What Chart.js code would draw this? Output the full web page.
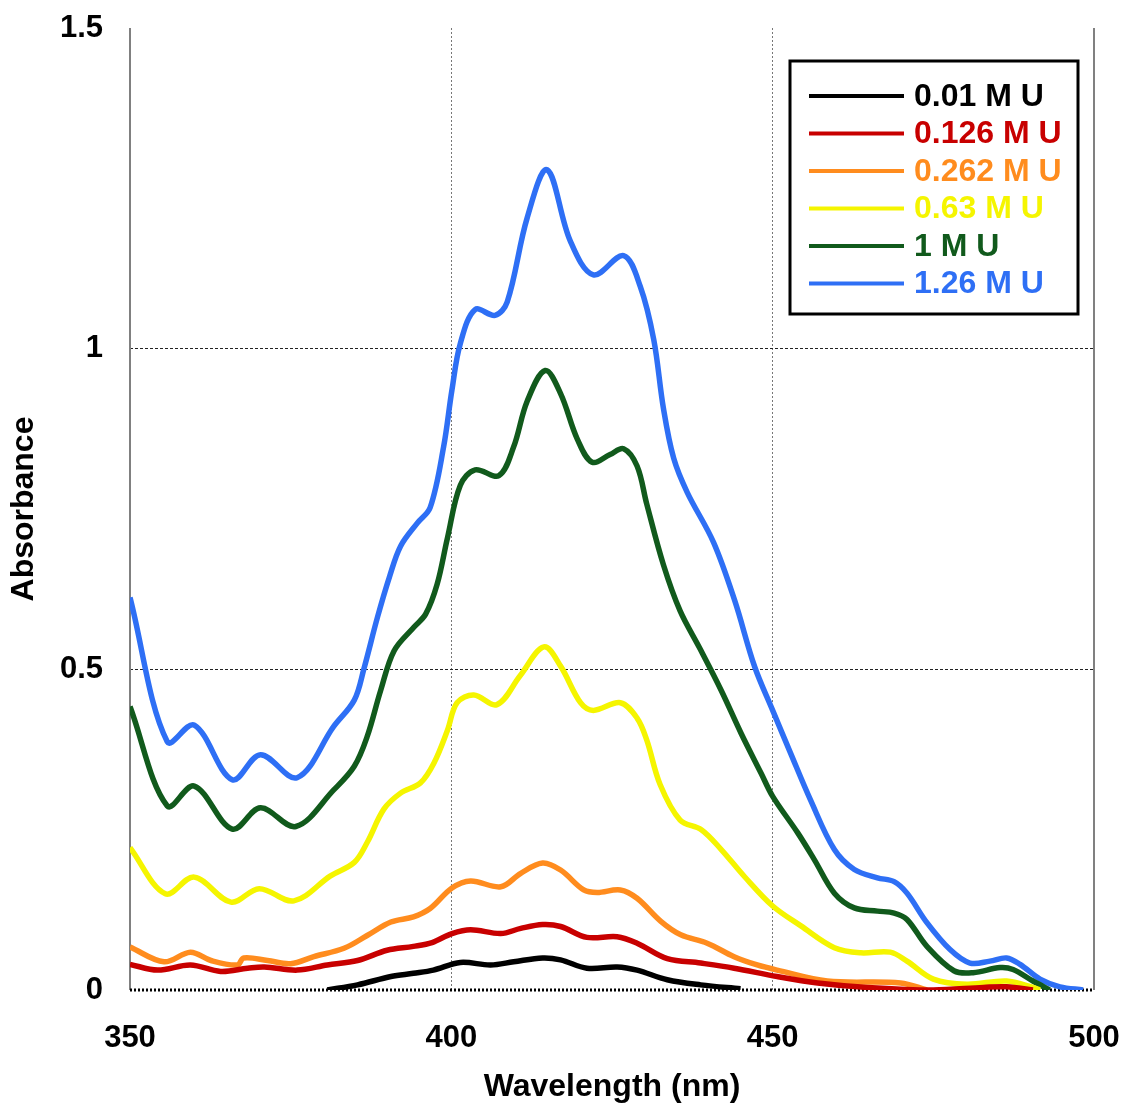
<!DOCTYPE html>
<html>
<head>
<meta charset="utf-8">
<script src="https://cdn.jsdelivr.net/npm/chart.js@4/dist/chart.umd.min.js"></script>
<style>
  body { margin: 0; background: #fff; }
  #wrap { width: 1122px; height: 1103px; }
</style>
</head>
<body>
<div id="wrap"><canvas id="chartAbs"></canvas></div>
<script>
// absorbance spectra at different urea concentrations
const seriesNames = ['0.01 M U', '0.126 M U', '0.262 M U', '0.63 M U', '1 M U', '1.26 M U'];
const seriesColors = ['#000000', '#c80000', '#ff8c1e', '#f5f500', '#115a1c', '#2e6ff5'];

const wl001 = [380.7, 385.4, 390.6, 394.1, 397.2, 401.4, 406.1, 409.7, 414.2, 417, 421.1, 425.8, 428.9, 433.6, 438.8, 445];
const abs001 = [0, 0.008, 0.021, 0.026, 0.031, 0.043, 0.039, 0.044, 0.050, 0.047, 0.034, 0.036, 0.031, 0.016, 0.008, 0.002];

const wl0126 = [350, 354.3, 359.4, 364.1, 368.3, 370.9, 376, 380.7, 385.4, 390, 394.1, 397, 400.1, 403, 407.7, 410.8,
  414.2, 417, 421.1, 425.8, 428.9, 433.6, 438.8, 444, 450.7, 457, 464.7, 475, 482.8, 486.4, 490.5];
const abs0126 = [0.040, 0.031, 0.039, 0.029, 0.034, 0.036, 0.031, 0.039, 0.046, 0.062, 0.068, 0.074, 0.088, 0.094, 0.088, 0.096,
  0.102, 0.099, 0.082, 0.083, 0.073, 0.049, 0.042, 0.034, 0.021, 0.011, 0.004, 0, 0.004, 0.005, 0];

const wl0262 = [350, 355.3, 359.4, 362.6, 366.7, 367.7, 371.4, 375, 378.6, 383.3, 386.9, 390.6, 394.1, 396.7, 400.1, 403,
  407.7, 410.8, 414.2, 417, 420.6, 422.7, 426.3, 428.9, 432.6, 435.7, 439.8, 444, 447.6, 450.7, 458.5, 469.9, 474];
const abs0262 = [0.067, 0.044, 0.059, 0.046, 0.039, 0.050, 0.046, 0.041, 0.052, 0.065, 0.085, 0.106, 0.114, 0.127, 0.159, 0.170,
  0.161, 0.182, 0.198, 0.187, 0.156, 0.152, 0.156, 0.143, 0.107, 0.086, 0.073, 0.052, 0.039, 0.031, 0.014, 0.011, 0];

const wl063 = [350, 355.5, 360, 365.7, 370.1, 375.5, 381.2, 384.9, 386.9, 389.5, 392.1, 395.2, 397.3, 399.4, 400.9, 403.5,
  407.1, 410.7, 414.4, 417, 420.1, 422.1, 426.3, 428.9, 430.4, 432.5, 435.6, 438.9, 442, 445.6, 450, 454.4,
  459.6, 463.7, 468.3, 470.9, 475, 480.2, 486.4, 490.5, 491.6];
const abs063 = [0.222, 0.150, 0.176, 0.137, 0.158, 0.139, 0.178, 0.199, 0.230, 0.282, 0.307, 0.323, 0.354, 0.405, 0.448, 0.460,
  0.445, 0.490, 0.535, 0.505, 0.448, 0.436, 0.448, 0.424, 0.390, 0.320, 0.265, 0.250, 0.219, 0.177, 0.131, 0.100,
  0.066, 0.058, 0.059, 0.045, 0.017, 0.009, 0.014, 0.004, 0];

const wl1 = [350, 355.8, 360, 365.9, 370.3, 375.8, 381.7, 384.9, 386.9, 389, 391.1, 394.2, 396, 397.8, 399.4, 401.4,
  403.7, 407.4, 409.7, 411.8, 414.6, 417, 419.6, 421.9, 424.7, 426.8, 428.9, 430.4, 433, 435.6, 438.7, 442,
  445.1, 448.2, 450, 453.9, 456.5, 459.6, 462.7, 466.3, 468.9, 470.9, 474, 478.2, 481.2, 485.4, 487.4, 490.5, 493.1];
const abs1 = [0.442, 0.287, 0.318, 0.251, 0.284, 0.255, 0.312, 0.349, 0.395, 0.467, 0.529, 0.566, 0.586, 0.633, 0.705, 0.787,
  0.811, 0.802, 0.847, 0.918, 0.966, 0.930, 0.859, 0.823, 0.835, 0.844, 0.817, 0.758, 0.663, 0.591, 0.532, 0.467,
  0.400, 0.338, 0.302, 0.245, 0.203, 0.151, 0.128, 0.123, 0.120, 0.110, 0.068, 0.030, 0.027, 0.035, 0.032, 0.014, 0];

const wl126 = [350, 355.8, 360, 365.9, 370.3, 376, 381.7, 384.9, 386.4, 388.5, 390.4, 392.1, 394.7, 396.7, 398.8, 400.1,
  401.4, 403.7, 406.8, 408.7, 411.8, 414.9, 418.5, 422.1, 426.8, 429.4, 431.5, 433, 434.6, 436.7, 440.8, 444.1,
  447.2, 450, 452.8, 455.9, 459.6, 462.7, 466.3, 468.9, 470.9, 474, 477.6, 480.7, 483.8, 486.4, 488.5, 491.6, 494.7, 498.3];
const abs126 = [0.612, 0.387, 0.413, 0.328, 0.367, 0.331, 0.411, 0.452, 0.501, 0.581, 0.645, 0.692, 0.728, 0.752, 0.847, 0.936,
  1.008, 1.061, 1.052, 1.073, 1.204, 1.279, 1.168, 1.115, 1.145, 1.097, 1.014, 0.907, 0.829, 0.776, 0.698, 0.607,
  0.504, 0.436, 0.369, 0.296, 0.219, 0.188, 0.175, 0.169, 0.151, 0.105, 0.063, 0.042, 0.045, 0.050, 0.040, 0.017, 0.005, 0];

const xTicks = [350, 400, 450, 500];
const yTicks = [0, 0.5, 1, 1.5];

const wlSets = [wl001, wl0126, wl0262, wl063, wl1, wl126];
const absSets = [abs001, abs0126, abs0262, abs063, abs1, abs126];

const datasets = seriesNames.map((name, k) => ({
  label: name,
  data: wlSets[k].map((x, i) => ({ x: x, y: absSets[k][i] })),
  borderColor: seriesColors[k],
  backgroundColor: seriesColors[k],
  borderWidth: 5.5,
  pointRadius: 0,
  showLine: true,
  fill: false,
  tension: 0.35
}));

// frame: gray left/right lines, dotted black baseline
const framePlugin = {
  id: 'frame',
  beforeDatasetsDraw(chart) {
    const { ctx, chartArea: a } = chart;
    ctx.save();
    ctx.strokeStyle = '#808080';
    ctx.lineWidth = 2;
    ctx.beginPath();
    ctx.moveTo(a.left, a.top); ctx.lineTo(a.left, a.bottom);
    ctx.moveTo(a.right, a.top); ctx.lineTo(a.right, a.bottom);
    ctx.stroke();
    ctx.strokeStyle = '#000';
    ctx.lineWidth = 3;
    ctx.setLineDash([2, 2]);
    ctx.beginPath();
    ctx.moveTo(a.left, a.bottom); ctx.lineTo(a.right, a.bottom);
    ctx.stroke();
    ctx.restore();
  }
};

// boxed legend with coloured labels
const boxLegend = {
  id: 'boxLegend',
  afterDraw(chart) {
    const { ctx, chartArea: a } = chart;
    const right = a.right - 16, top = a.top + 33;
    const w = 288, h = 253, rowH = 37.5;
    const left = right - w;
    ctx.save();
    ctx.fillStyle = '#fff';
    ctx.fillRect(left, top, w, h);
    ctx.strokeStyle = '#000';
    ctx.lineWidth = 3;
    ctx.strokeRect(left, top, w, h);
    ctx.font = 'bold 32px "Liberation Sans", Arial, sans-serif';
    ctx.textBaseline = 'middle';
    chart.data.datasets.forEach((ds, i) => {
      const y = top + 35 + i * rowH;
      ctx.strokeStyle = ds.borderColor;
      ctx.lineWidth = 4;
      ctx.beginPath();
      ctx.moveTo(left + 19, y); ctx.lineTo(left + 114, y);
      ctx.stroke();
      ctx.fillStyle = ds.borderColor;
      ctx.fillText(ds.label, left + 124, y + 1);
    });
    ctx.restore();
  }
};

const tickFont = { family: '"Liberation Sans", Arial, sans-serif', size: 31, weight: 'bold' };
const titleFont = { family: '"Liberation Sans", Arial, sans-serif', size: 32, weight: 'bold' };

new Chart(document.getElementById('chartAbs'), {
  type: 'scatter',
  data: { datasets: datasets },
  plugins: [framePlugin, boxLegend],
  options: {
    responsive: true,
    maintainAspectRatio: false,
    animation: false,
    layout: { padding: { top: 28, right: 28, left: 0, bottom: 0 } },
    plugins: { legend: { display: false }, tooltip: { enabled: false } },
    scales: {
      x: {
        type: 'linear',
        min: 350,
        max: 500,
        afterBuildTicks: s => { s.ticks = xTicks.map(v => ({ value: v })); },
        afterFit: s => { s.height = 113; s.paddingLeft = 10; s.paddingRight = 10; },
        ticks: { font: tickFont, color: '#000', padding: 30 },
        grid: {
          drawTicks: false,
          lineWidth: 1,
          color: c => (c.tick && (c.tick.value === 350 || c.tick.value === 500)) ? 'rgba(0,0,0,0)' : '#777'
        },
        border: { display: false, dash: [2, 2] },
        title: { display: true, text: 'Wavelength (nm)', font: titleFont, color: '#000', padding: { top: 0, bottom: -3 } }
      },
      y: {
        min: 0,
        max: 1.5,
        afterBuildTicks: s => { s.ticks = yTicks.map(v => ({ value: v })); },
        afterFit: s => { s.width = 130; s.paddingTop = 10; s.paddingBottom = 10; },
        ticks: { font: tickFont, color: '#000', padding: 27, callback: v => String(v) },
        grid: {
          drawTicks: false,
          lineWidth: 1,
          color: c => (c.tick && (c.tick.value === 0 || c.tick.value === 1.5)) ? 'rgba(0,0,0,0)' : '#222'
        },
        border: { display: false, dash: [3, 2] },
        title: { display: true, text: 'Absorbance', font: titleFont, color: '#000', padding: { top: 5, bottom: 0 } }
      }
    }
  }
});
</script>
</body>
</html>
